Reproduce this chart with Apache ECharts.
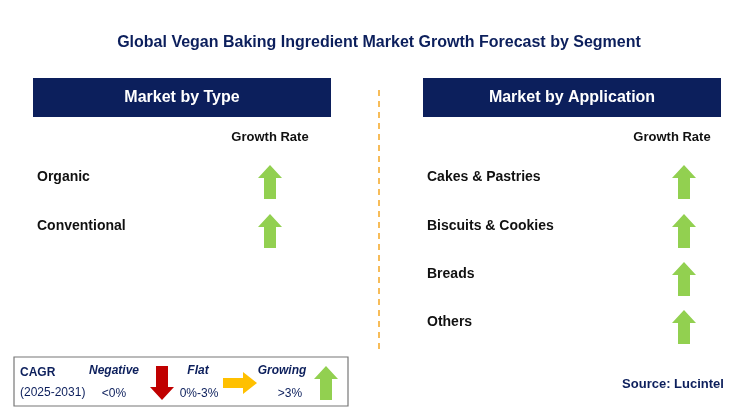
<!DOCTYPE html>
<html><head><meta charset="utf-8">
<script src="https://cdn.jsdelivr.net/npm/echarts@6/dist/echarts.min.js"></script>
<style>html,body{margin:0;padding:0;background:#fff}#main{width:743px;height:418px}</style>
</head><body><div id="main"></div>
<script>
// segment data
var typeNames = ['Organic', 'Conventional'];
var typeGrowth = ['growing', 'growing'];
var appNames = ['Cakes & Pastries', 'Biscuits & Cookies', 'Breads', 'Others'];
var appGrowth = ['growing', 'growing', 'growing', 'growing'];
var rowY = [177, 226, 274, 322];

var navy = '#0c1f5c';
var font = 'Liberation Sans, Arial, sans-serif';

// arrow polygon, dir: up / down / right
function arrow(cx, cy, dir, color) {
  var pts;
  if (dir === 'right') {
    pts = [[-17,-5],[3,-5],[3,-11],[17,0],[3,11],[3,5],[-17,5]];
  } else {
    pts = [[0,-17],[12,-4],[6,-4],[6,17],[-6,17],[-6,-4],[-12,-4]];
    if (dir === 'down') pts = pts.map(function (p) { return [p[0], -p[1]]; });
  }
  return {type: 'polygon', shape: {points: pts.map(function (p) { return [cx + p[0], cy + p[1]]; })},
    style: {fill: color}};
}
function growthArrow(cx, cy, g) {
  if (g === 'negative') return arrow(cx, cy, 'down', '#c00000');
  if (g === 'flat') return arrow(cx, cy, 'right', '#ffc000');
  return arrow(cx, cy, 'up', '#92d050');
}
function txt(x, y, s, size, opts) {
  opts = opts || {};
  return {type: 'text', x: x, y: y, style: {text: s, fill: opts.color || '#111', font: (opts.italic ? 'italic ' : '') + (opts.weight || 'bold') + ' ' + size + 'px ' + font,
    align: opts.align || 'left', verticalAlign: 'middle'}};
}

var els = [];
els.push(txt(379, 43, 'Global Vegan Baking Ingredient Market Growth Forecast by Segment', 16, {align: 'center', color: navy}));
[[33, 'Market by Type'], [423, 'Market by Application']].forEach(function (h) {
  els.push({type: 'rect', shape: {x: h[0], y: 78, width: 298, height: 39}, style: {fill: navy}});
  els.push(txt(h[0] + 149, 98, h[1], 16, {align: 'center', color: '#fff'}));
});
els.push({type: 'line', shape: {x1: 379, y1: 90, x2: 379, y2: 350}, style: {stroke: '#f5a623', lineWidth: 1.5, lineDash: [6, 5]}});
els.push(txt(270, 137, 'Growth Rate', 13, {align: 'center'}));
els.push(txt(672, 137, 'Growth Rate', 13, {align: 'center'}));
typeNames.forEach(function (n, i) {
  els.push(txt(37, rowY[i], n, 14, {color: '#111'}));
  els.push(growthArrow(270, rowY[i] + 5, typeGrowth[i]));
});
appNames.forEach(function (n, i) {
  els.push(txt(427, rowY[i], n, 14, {color: '#111'}));
  els.push(growthArrow(684, rowY[i] + 5, appGrowth[i]));
});
// legend box
els.push({type: 'rect', shape: {x: 14, y: 357, width: 334, height: 49}, style: {fill: '#fff', stroke: '#777', lineWidth: 1.2}});
els.push(txt(20, 373, 'CAGR', 12, {color: navy}));
els.push(txt(20, 393, '(2025-2031)', 12, {color: navy, weight: 'normal'}));
els.push(txt(114, 371, 'Negative', 12, {color: navy, italic: true, align: 'center'}));
els.push(txt(114, 394, '<0%', 12, {color: navy, weight: 'normal', align: 'center'}));
els.push(arrow(162, 383, 'down', '#c00000'));
els.push(txt(198, 371, 'Flat', 12, {color: navy, italic: true, align: 'center'}));
els.push(txt(199, 394, '0%-3%', 12, {color: navy, weight: 'normal', align: 'center'}));
els.push(arrow(240, 383, 'right', '#ffc000'));
els.push(txt(282, 371, 'Growing', 12, {color: navy, italic: true, align: 'center'}));
els.push(txt(290, 394, '>3%', 12, {color: navy, weight: 'normal', align: 'center'}));
els.push(arrow(326, 383, 'up', '#92d050'));
els.push(txt(673, 384, 'Source: Lucintel', 13, {color: navy, align: 'center'}));

var chart = echarts.init(document.getElementById('main'));
chart.setOption({animation: false, graphic: els});
</script></body></html>
